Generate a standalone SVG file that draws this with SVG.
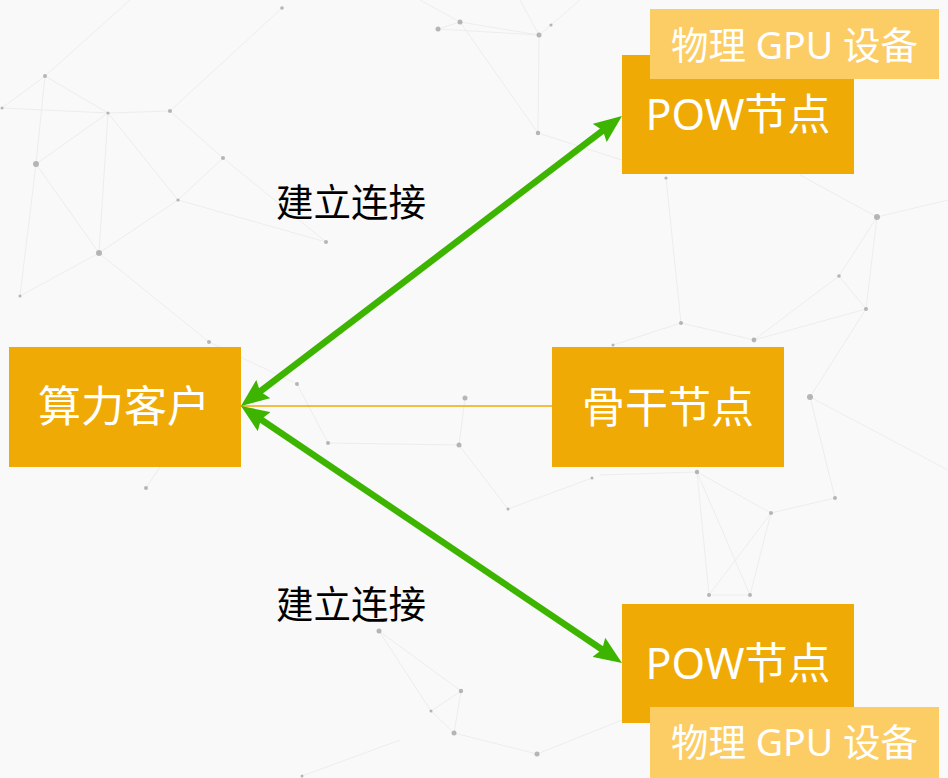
<svg xmlns="http://www.w3.org/2000/svg" width="948" height="778" viewBox="0 0 948 778">
  <style>
    .bg { fill: #f9f9f9; }
    .mesh line { stroke: #ededed; stroke-width: 1; }
    .mesh circle { fill: #9a9a9a; opacity: 0.7; }
    .node { fill: #efaa05; }
    .tag { fill: #fdcd65; }
    .label { font-family: "Noto Sans", "Noto Sans CJK SC", sans-serif; fill: #ffffff; text-anchor: middle; }
    .big { font-size: 43px; }
    .small { font-size: 37.5px; }
    .edge-label { font-family: "Noto Sans CJK SC", sans-serif; font-size: 37.5px; fill: #000000; }
    .link { stroke: #3db500; stroke-width: 6.5; fill: none; }
    .backbone { stroke: #f0a800; stroke-width: 1.3; }
  </style>
  <defs>
    <marker id="head" markerUnits="userSpaceOnUse" viewBox="0 0 28 23" markerWidth="28" markerHeight="23" refX="12" refY="11.5" orient="auto-start-reverse">
      <path d="M0,0 L28,11.5 L0,23 L4,11.5 z" fill="#3db500"/>
    </marker>
  </defs>

  <rect class="bg" x="0" y="0" width="948" height="778"/>

  <!-- faint network texture behind the diagram -->
  <g class="mesh">
    <line x1="45" y1="76" x2="108" y2="113"/>
    <line x1="45" y1="76" x2="36" y2="164"/>
    <line x1="45" y1="76" x2="2" y2="108"/>
    <line x1="2" y1="108" x2="108" y2="113"/>
    <line x1="108" y1="113" x2="170" y2="111"/>
    <line x1="108" y1="113" x2="178" y2="200"/>
    <line x1="170" y1="111" x2="223" y2="158"/>
    <line x1="36" y1="164" x2="108" y2="113"/>
    <line x1="36" y1="164" x2="99" y2="253"/>
    <line x1="108" y1="113" x2="99" y2="253"/>
    <line x1="178" y1="200" x2="223" y2="158"/>
    <line x1="178" y1="200" x2="99" y2="253"/>
    <line x1="36" y1="164" x2="20" y2="296"/>
    <line x1="99" y1="253" x2="20" y2="296"/>
    <line x1="223" y1="158" x2="326" y2="242"/>
    <line x1="178" y1="200" x2="326" y2="242"/>
    <line x1="45" y1="76" x2="130" y2="0"/>
    <line x1="170" y1="111" x2="282" y2="8"/>
    <line x1="99" y1="253" x2="209" y2="342"/>
    <line x1="438" y1="29" x2="460" y2="22"/>
    <line x1="460" y1="22" x2="539" y2="35"/>
    <line x1="438" y1="29" x2="539" y2="35"/>
    <line x1="539" y1="35" x2="538" y2="133"/>
    <line x1="460" y1="22" x2="538" y2="133"/>
    <line x1="551" y1="25" x2="539" y2="35"/>
    <line x1="460" y1="22" x2="420" y2="0"/>
    <line x1="551" y1="25" x2="580" y2="0"/>
    <line x1="539" y1="35" x2="520" y2="0"/>
    <line x1="538" y1="133" x2="622" y2="160"/>
    <line x1="666" y1="178" x2="681" y2="323"/>
    <line x1="681" y1="323" x2="754" y2="340"/>
    <line x1="681" y1="323" x2="613" y2="345"/>
    <line x1="754" y1="340" x2="839" y2="276"/>
    <line x1="839" y1="276" x2="877" y2="217"/>
    <line x1="839" y1="276" x2="866" y2="309"/>
    <line x1="866" y1="309" x2="877" y2="217"/>
    <line x1="754" y1="340" x2="866" y2="309"/>
    <line x1="866" y1="309" x2="810" y2="397"/>
    <line x1="877" y1="217" x2="948" y2="200"/>
    <line x1="877" y1="217" x2="800" y2="175"/>
    <line x1="810" y1="397" x2="835" y2="498"/>
    <line x1="810" y1="397" x2="948" y2="470"/>
    <line x1="297" y1="384" x2="328" y2="443"/>
    <line x1="328" y1="443" x2="459" y2="445"/>
    <line x1="465" y1="398" x2="459" y2="445"/>
    <line x1="459" y1="445" x2="508" y2="509"/>
    <line x1="508" y1="509" x2="592" y2="478"/>
    <line x1="379" y1="631" x2="461" y2="691"/>
    <line x1="379" y1="631" x2="431" y2="711"/>
    <line x1="461" y1="691" x2="431" y2="711"/>
    <line x1="431" y1="711" x2="454" y2="733"/>
    <line x1="461" y1="691" x2="454" y2="733"/>
    <line x1="454" y1="733" x2="537" y2="754"/>
    <line x1="537" y1="754" x2="622" y2="720"/>
    <line x1="302" y1="776" x2="400" y2="740"/>
    <line x1="209" y1="342" x2="297" y2="384"/>
    <line x1="146" y1="488" x2="160" y2="467"/>
    <line x1="697" y1="472" x2="771" y2="513"/>
    <line x1="771" y1="513" x2="835" y2="498"/>
    <line x1="697" y1="472" x2="709" y2="595"/>
    <line x1="771" y1="513" x2="709" y2="595"/>
    <line x1="771" y1="513" x2="750" y2="595"/>
    <line x1="709" y1="595" x2="750" y2="595"/>
    <line x1="697" y1="472" x2="750" y2="595"/>
    <line x1="600" y1="475" x2="697" y2="472"/>
    <circle cx="45" cy="76" r="2"/>
    <circle cx="108" cy="113" r="1.6"/>
    <circle cx="170" cy="111" r="2"/>
    <circle cx="2" cy="108" r="1.5"/>
    <circle cx="36" cy="164" r="3"/>
    <circle cx="223" cy="158" r="2"/>
    <circle cx="178" cy="200" r="1.6"/>
    <circle cx="99" cy="253" r="3"/>
    <circle cx="20" cy="296" r="1.5"/>
    <circle cx="282" cy="8" r="1.8"/>
    <circle cx="326" cy="242" r="2"/>
    <circle cx="438" cy="29" r="2.5"/>
    <circle cx="460" cy="22" r="2.5"/>
    <circle cx="539" cy="35" r="2.5"/>
    <circle cx="551" cy="25" r="1.6"/>
    <circle cx="538" cy="133" r="2.2"/>
    <circle cx="666" cy="178" r="1.6"/>
    <circle cx="877" cy="217" r="3"/>
    <circle cx="839" cy="276" r="1.8"/>
    <circle cx="866" cy="309" r="2"/>
    <circle cx="681" cy="323" r="2"/>
    <circle cx="754" cy="340" r="2.4"/>
    <circle cx="613" cy="345" r="1.5"/>
    <circle cx="810" cy="397" r="3"/>
    <circle cx="297" cy="384" r="2"/>
    <circle cx="465" cy="398" r="2.5"/>
    <circle cx="328" cy="443" r="2"/>
    <circle cx="459" cy="445" r="2.5"/>
    <circle cx="508" cy="509" r="1.5"/>
    <circle cx="592" cy="478" r="1.5"/>
    <circle cx="379" cy="631" r="2.5"/>
    <circle cx="461" cy="691" r="2.2"/>
    <circle cx="431" cy="711" r="1.5"/>
    <circle cx="454" cy="733" r="2.5"/>
    <circle cx="537" cy="754" r="2.5"/>
    <circle cx="302" cy="776" r="1.5"/>
    <circle cx="146" cy="488" r="2"/>
    <circle cx="209" cy="342" r="2"/>
    <circle cx="697" cy="472" r="2.2"/>
    <circle cx="771" cy="513" r="2"/>
    <circle cx="835" cy="498" r="2"/>
    <circle cx="709" cy="595" r="2"/>
    <circle cx="750" cy="595" r="2"/>
  </g>

  <!-- connectors -->
  <g id="connectors">
    <line class="backbone" x1="241" y1="406" x2="552" y2="406"/>
    <line class="link" x1="253.73" y1="396.31" x2="609.27" y2="125.69" marker-start="url(#head)" marker-end="url(#head)"/>
    <line class="link" x1="254.26" y1="414.95" x2="608.74" y2="654.05" marker-start="url(#head)" marker-end="url(#head)"/>
    <text class="edge-label" x="276" y="216">建立连接</text>
    <text class="edge-label" x="276" y="618">建立连接</text>
  </g>

  <g id="client">
    <rect class="node" x="9" y="347" width="232" height="120"/>
    <text class="label big" x="124" y="422">算力客户</text>
  </g>

  <g id="backbone">
    <rect class="node" x="552" y="347" width="232" height="120"/>
    <text class="label big" x="668" y="423">骨干节点</text>
  </g>

  <g id="pow-top">
    <rect class="node" x="622" y="55" width="232" height="119"/>
    <text class="label big" x="738" y="130">POW节点</text>
  </g>

  <g id="gpu-top">
    <rect class="tag" x="650" y="9" width="289" height="70"/>
    <text class="label small" x="794.5" y="59">物理 GPU 设备</text>
  </g>

  <g id="pow-bottom">
    <rect class="node" x="622" y="604" width="232" height="119"/>
    <text class="label big" x="738" y="679">POW节点</text>
  </g>

  <g id="gpu-bottom">
    <rect class="tag" x="650" y="707" width="289" height="71"/>
    <text class="label small" x="794.5" y="756">物理 GPU 设备</text>
  </g>
</svg>
